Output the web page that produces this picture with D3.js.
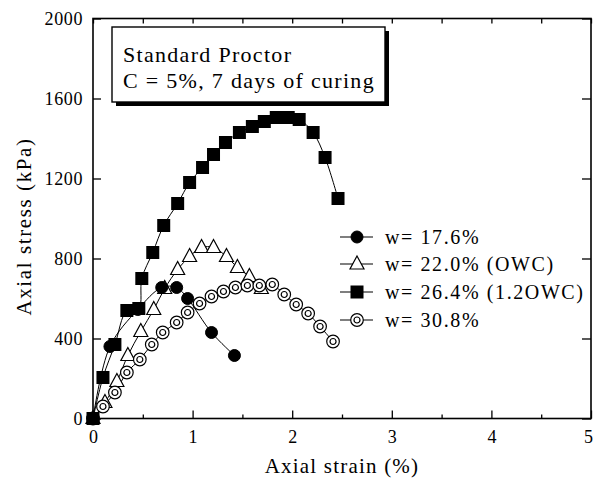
<!DOCTYPE html>
<html>
<head>
<meta charset="utf-8">
<script src="https://cdn.jsdelivr.net/npm/d3@7/dist/d3.min.js"></script>
<style>
  html, body { margin: 0; padding: 0; background: #fff; }
  svg { display: block; }
  text { font-family: "Liberation Serif", "Times New Roman", serif; fill: #000; }
</style>
</head>
<body>
<svg id="chart" width="593" height="480"></svg>
<script>
// Axis ticks
const strainTicks = [0, 1, 2, 3, 4, 5];
const strainMinorTicks = [0.5, 1.5, 2.5, 3.5, 4.5];
const stressTicks = [0, 400, 800, 1200, 1600, 2000];

// Unconfined compression curves, C = 5%, 7 days of curing
const seriesLabels = ["w= 17.6%", "w= 22.0% (OWC)", "w= 26.4% (1.2OWC)", "w= 30.8%"];

const strain176 = [0, 0.17, 0.45, 0.69, 0.84, 0.95, 1.19, 1.42];
const stress176 = [0, 360, 545, 655, 655, 600, 430, 315];

const strain220 = [0, 0.12, 0.24, 0.35, 0.48, 0.61, 0.72, 0.85, 0.97, 1.09, 1.21, 1.34, 1.45, 1.57, 1.69];
const stress220 = [0, 80, 185, 315, 435, 545, 650, 745, 810, 855, 855, 810, 755, 710, 650];

const strain264 = [0, 0.10, 0.22, 0.34, 0.46, 0.49, 0.60, 0.71, 0.85, 0.97, 1.10, 1.21, 1.33, 1.47, 1.60, 1.72, 1.84, 1.96, 2.07, 2.21, 2.33, 2.46];
const stress264 = [0, 205, 370, 540, 550, 700, 830, 965, 1075, 1180, 1255, 1320, 1380, 1430, 1460, 1485, 1505, 1505, 1495, 1430, 1305, 1100];

const strain308 = [0, 0.10, 0.22, 0.34, 0.47, 0.59, 0.70, 0.84, 0.95, 1.07, 1.19, 1.31, 1.43, 1.55, 1.67, 1.80, 1.92, 2.04, 2.16, 2.28, 2.41];
const stress308 = [0, 60, 130, 230, 295, 370, 430, 480, 530, 575, 610, 635, 655, 665, 665, 670, 620, 570, 525, 460, 385];

const svg = d3.select("#chart");
const L = 93, R = 591, T = 18.5, B = 418.5;
const serif = "'Liberation Serif', 'Times New Roman', serif";

const x = d3.scaleLinear().domain([0, 5]).range([L, R]);
const y = d3.scaleLinear().domain([0, 2000]).range([B, T]);

// Frame
svg.append("rect")
  .attr("x", L).attr("y", T).attr("width", R - L).attr("height", B - T)
  .attr("fill", "none").attr("stroke", "#000").attr("stroke-width", 1.6);

function styleAxis(g, fontSize, spacing) {
  g.attr("font-family", serif);
  g.select(".domain").remove();
  g.selectAll(".tick line").attr("stroke", "#000").attr("stroke-width", 1.3);
  g.selectAll(".tick text")
    .attr("font-family", serif)
    .attr("font-size", fontSize)
    .attr("letter-spacing", spacing)
    .attr("fill", "#000");
}

// Bottom axis: major ticks with labels, minor half-unit ticks
svg.append("g").attr("transform", `translate(0,${B})`)
  .call(d3.axisBottom(x).tickValues(strainTicks).tickFormat(d3.format("d"))
    .tickSizeInner(-8).tickSizeOuter(0).tickPadding(12))
  .call(g => styleAxis(g, 18, 0))
  .call(g => g.selectAll(".tick text").filter(d => d === 5).attr("dx", -3));
svg.append("g").attr("transform", `translate(0,${B})`)
  .call(d3.axisBottom(x).tickValues(strainMinorTicks).tickFormat("")
    .tickSizeInner(-4).tickSizeOuter(0))
  .call(g => styleAxis(g, 18, 0));

// Top axis: inward ticks every half unit
svg.append("g").attr("transform", `translate(0,${T})`)
  .call(d3.axisTop(x).tickValues(strainTicks.concat(strainMinorTicks)).tickFormat("")
    .tickSizeInner(-5).tickSizeOuter(0))
  .call(g => styleAxis(g, 18, 0));

// Left axis
svg.append("g").attr("transform", `translate(${L},0)`)
  .call(d3.axisLeft(y).tickValues(stressTicks).tickFormat(d3.format("d"))
    .tickSizeInner(-8).tickSizeOuter(0).tickPadding(10))
  .call(g => styleAxis(g, 18, 0.6));

// Right axis
svg.append("g").attr("transform", `translate(${R},0)`)
  .call(d3.axisRight(y).tickValues(stressTicks).tickFormat("")
    .tickSizeInner(-9).tickSizeOuter(0))
  .call(g => styleAxis(g, 18, 0));

// Axis titles
svg.append("text")
  .attr("x", (L + R) / 2).attr("y", 473)
  .attr("text-anchor", "middle")
  .attr("font-size", 21).attr("letter-spacing", 1.2)
  .text("Axial strain (%)");

svg.append("text")
  .attr("transform", `translate(31,${(T + B) / 2 + 8}) rotate(-90)`)
  .attr("text-anchor", "middle")
  .attr("font-size", 21).attr("letter-spacing", 1.6)
  .text("Axial stress (kPa)");

// Test conditions box with drop shadow
const box = svg.append("g");
box.append("rect").attr("x", 116).attr("y", 31).attr("width", 273).attr("height", 75).attr("fill", "#000");
box.append("rect").attr("x", 112).attr("y", 27).attr("width", 273).attr("height", 75)
  .attr("fill", "#fff").attr("stroke", "#000").attr("stroke-width", 1.4);
box.append("text").attr("x", 123).attr("y", 62).attr("font-size", 22).attr("letter-spacing", 1.3)
  .text("Standard Proctor");
box.append("text").attr("x", 123).attr("y", 88).attr("font-size", 22).attr("letter-spacing", 1.3)
  .text("C = 5%, 7 days of curing");

// Marker painters
const markers = {
  dot: g => g.append("path")
    .attr("d", d3.symbol().type(d3.symbolCircle).size(Math.PI * 36)())
    .attr("fill", "#000").attr("stroke", "#000").attr("stroke-width", 1),
  tri: g => g.append("path")
    .attr("d", "M0,-8L7,5L-7,5Z")
    .attr("fill", "#fff").attr("stroke", "#000").attr("stroke-width", 1.2),
  sq: g => g.append("rect")
    .attr("x", -6.5).attr("y", -6.5).attr("width", 13).attr("height", 13)
    .attr("fill", "#000"),
  ring: g => {
    g.append("circle").attr("r", 6.3).attr("fill", "#fff").attr("stroke", "#000").attr("stroke-width", 1.2);
    g.append("circle").attr("r", 3).attr("fill", "#fff").attr("stroke", "#000").attr("stroke-width", 1.2);
  }
};

const series = [
  { label: seriesLabels[1], xs: strain220, ys: stress220, mark: "tri" },
  { label: seriesLabels[3], xs: strain308, ys: stress308, mark: "ring" },
  { label: seriesLabels[2], xs: strain264, ys: stress264, mark: "sq" },
  { label: seriesLabels[0], xs: strain176, ys: stress176, mark: "dot" }
];

const line = d3.line()
  .x(d => x(d[0])).y(d => y(d[1]))
  .curve(d3.curveCatmullRom.alpha(0.5));

// Curves first, then markers on top
series.forEach(s => {
  const pts = s.xs.map((v, i) => [v, s.ys[i]]);
  svg.append("path").datum(pts)
    .attr("d", line).attr("fill", "none")
    .attr("stroke", "#000").attr("stroke-width", 1);
});
series.forEach(s => {
  const pts = s.xs.map((v, i) => [v, s.ys[i]]);
  svg.append("g").selectAll("g").data(pts).join("g")
    .attr("transform", d => `translate(${x(d[0])},${y(d[1])})`)
    .each(function () { markers[s.mark](d3.select(this)); });
});

// Legend
const legendOrder = [
  { label: seriesLabels[0], mark: "dot" },
  { label: seriesLabels[1], mark: "tri" },
  { label: seriesLabels[2], mark: "sq" },
  { label: seriesLabels[3], mark: "ring" }
];
const legendY = [237, 264, 292, 320];
legendOrder.forEach((item, i) => {
  const g = svg.append("g").attr("transform", `translate(0,${legendY[i]})`);
  g.append("line").attr("x1", 340).attr("x2", 373).attr("y1", 0).attr("y2", 0)
    .attr("stroke", "#000").attr("stroke-width", 1.2);
  markers[item.mark](g.append("g").attr("transform", "translate(357,0)"));
  g.append("text").attr("x", 385).attr("y", 0).attr("dy", "0.35em")
    .attr("font-size", 20).attr("letter-spacing", 1.6)
    .text(item.label);
});
</script>
</body>
</html>
